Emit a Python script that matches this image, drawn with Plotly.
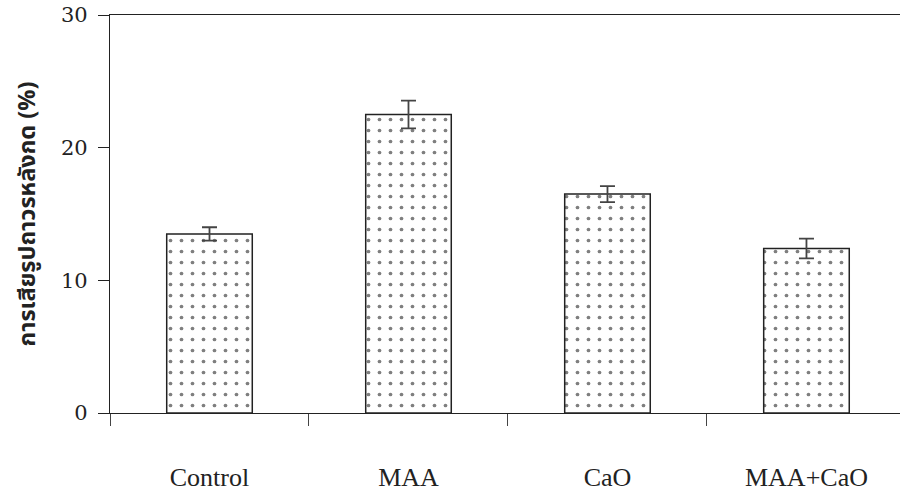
import plotly.graph_objects as go

categories = ["Control", "MAA", "CaO", "MAA+CaO"]
values = [13.5, 22.5, 16.5, 12.4]
errors = [0.5, 1.05, 0.6, 0.75]
y_ticks = [0, 10, 20, 30]
y_title = "การเสียรูปถาวรหลังกด (%)"

fig = go.Figure()
fig.add_trace(go.Bar(
    x=categories, y=values, width=0.43,
    marker=dict(
        color="white",
        line=dict(color="#222", width=1.5),
        pattern=dict(shape=".", size=11, solidity=0.09, fgcolor="black",
                     bgcolor="white", fillmode="overlay"),
    ),
    error_y=dict(type="data", array=errors, visible=True, color="#444",
                 thickness=1.8, width=7.5),
))

fig.update_layout(
    width=900, height=494,
    margin=dict(l=110, r=0, t=15, b=81, autoexpand=False),
    paper_bgcolor="white", plot_bgcolor="white",
    showlegend=False,
    xaxis=dict(
        type="category", range=[-0.5, 3.47], automargin=False,
        tickson="boundaries", ticks="outside", ticklen=12, tickwidth=1.3,
        tickcolor="#444",
        showline=True, linecolor="#222", linewidth=1.3, mirror=True,
        showgrid=False, zeroline=False,
        ticklabelstandoff=41,
        tickfont=dict(family="Liberation Serif, Times New Roman, serif",
                      size=26, color="#222"),
    ),
    yaxis=dict(
        range=[0, 30], tickvals=y_ticks, automargin=False,
        ticks="outside", ticklen=11, tickwidth=1.3, tickcolor="#222",
        showline=True, linecolor="#222", linewidth=1.3,
        showgrid=False, zeroline=False,
        ticklabelstandoff=6,
        tickfont=dict(family="DejaVu Serif, serif", size=21, color="#222"),
        title=dict(text=y_title, standoff=18,
                   font=dict(family="Noto Sans Thai, Noto Sans, DejaVu Sans, sans-serif",
                             size=23.5, color="#222", weight="bold")),
    ),
)

fig.write_html(
    "out.html",
    config={"displayModeBar": False},
    post_script="document.body.style.margin='0';document.body.style.overflow='hidden';",
)
